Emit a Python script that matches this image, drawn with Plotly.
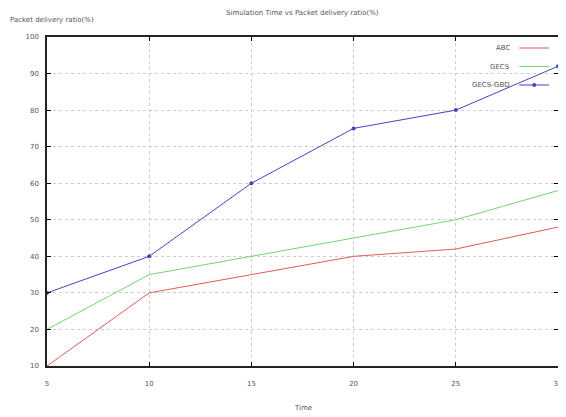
import plotly.graph_objects as go

time = [5, 10, 15, 20, 25, 30]
abc = [10, 30, 35, 40, 42, 48]
gecs = [20, 35, 40, 45, 50, 58]
gecs_gbd = [30, 40, 60, 75, 80, 92]
series_names = ["ABC", "GECS", "GECS-GBD"]
colors = ["#e05a5a", "#70d870", "#4444c0"]
y_ticks = [10, 20, 30, 40, 50, 60, 70, 80, 90, 100]

fig = go.Figure()
fig.add_trace(go.Scatter(x=time, y=abc, mode="lines", line=dict(color=colors[0], width=1), name=series_names[0]))
fig.add_trace(go.Scatter(x=time, y=gecs, mode="lines", line=dict(color=colors[1], width=1), name=series_names[1]))
fig.add_trace(go.Scatter(x=time, y=gecs_gbd, mode="lines+markers", line=dict(color=colors[2], width=1),
                         marker=dict(size=4, color=colors[2]), name=series_names[2]))

font = dict(family="DejaVu Sans", size=7, color="#555")
# body has an 8px default margin in the page, so the figure is sized to fit the window
fig.update_layout(
    width=558, height=409,
    margin=dict(l=39, r=4, t=29, b=51),
    plot_bgcolor="white", paper_bgcolor="white",
    showlegend=False,
    font=font,
    xaxis=dict(range=[5, 30], tickvals=time, ticks="inside", ticklen=4, tickcolor="black",
               showgrid=True, gridcolor="#cccccc", griddash="dot", gridwidth=1,
               showline=True, linecolor="#222", linewidth=1.5, mirror="ticks", zeroline=False,
               tickfont=font, ticklabelstandoff=10),
    yaxis=dict(range=[10, 100], tickvals=y_ticks, ticks="inside", ticklen=4, tickcolor="black",
               showgrid=True, gridcolor="#cccccc", griddash="dot", gridwidth=1,
               showline=True, linecolor="#222", linewidth=1.5, mirror="ticks", zeroline=False,
               tickfont=font, ticklabelstandoff=5),
)

PW, PH = 515, 329
fig.add_annotation(text="Simulation Time vs Packet delivery ratio(%)", xref="paper", yref="paper",
                   x=0.5, y=1, yshift=24, showarrow=False, xanchor="center", yanchor="middle", font=font)
fig.add_annotation(text="Packet delivery ratio(%)", xref="paper", yref="paper",
                   x=0, xshift=-39, y=1, yshift=17, showarrow=False, xanchor="left", yanchor="middle", font=font)
fig.add_annotation(text="Time", xref="paper", yref="paper",
                   x=0.5, y=0, yshift=-42, showarrow=False, xanchor="center", yanchor="middle", font=font)

# gnuplot-style key: label then line sample
for i, (nm, c) in enumerate(zip(series_names, colors)):
    ypos = 1 - (11 + 18.5 * i) / PH
    fig.add_annotation(text=nm, xref="paper", yref="paper", x=(516 - 47) / PW, y=ypos,
                       showarrow=False, xanchor="right", yanchor="middle", font=font)
    fig.add_shape(type="line", xref="paper", yref="paper", x0=(523 - 47) / PW, x1=(553 - 47) / PW,
                  y0=ypos, y1=ypos, line=dict(color=c, width=1))
    if i == 2:
        cx = (538 - 47) / PW
        fig.add_shape(type="circle", xref="paper", yref="paper",
                      x0=cx - 2 / PW, x1=cx + 2 / PW, y0=ypos - 2 / PH, y1=ypos + 2 / PH,
                      fillcolor=c, line=dict(color=c, width=0))

fig.write_html("out.html")
